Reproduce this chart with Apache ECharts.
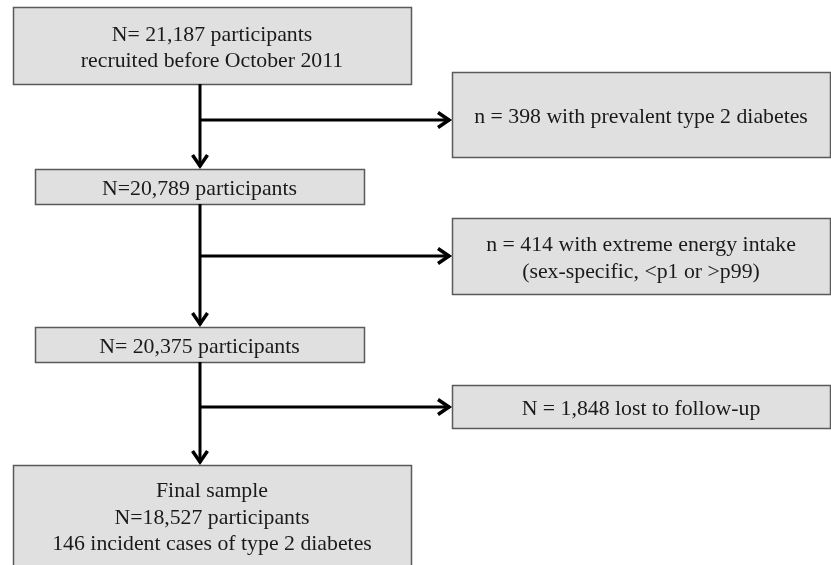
<!DOCTYPE html>
<html>
<head>
<meta charset="utf-8">
<script src="https://cdn.jsdelivr.net/npm/echarts@6/dist/echarts.min.js"></script>
<style>
html,body{margin:0;padding:0;background:#fff;}
#chart{width:831px;height:565px;}
</style>
</head>
<body>
<div id="chart"></div>
<script>
// Flowchart content
const boxLabels = [
  "N= 21,187 participants\nrecruited before October 2011",
  "n = 398 with prevalent type 2 diabetes",
  "N=20,789 participants",
  "n = 414 with extreme energy intake\n(sex-specific, <p1 or >p99)",
  "N= 20,375 participants",
  "N = 1,848 lost to follow-up",
  "Final sample\nN=18,527 participants\n146 incident cases of type 2 diabetes"
];
// Box layout [x0, y0, x1, y1] in chart units (pixels of the 831x565 canvas)
const boxLayout = [
  [13, 7, 411, 84],
  [452, 72, 830, 157],
  [35, 169, 364, 204],
  [452, 218, 830, 294],
  [35, 327, 364, 362],
  [452, 385, 830, 428],
  [13, 465, 411, 575]
];
// Connectors: vertical main flow (from box, to box) and side exits (target box, y)
const mainFlow = [[0, 2], [2, 4], [4, 6]];
const sideExits = [[1, 120], [3, 256], [5, 407]];
const spineX = 200;

const chart = echarts.init(document.getElementById('chart'), null, {renderer: 'canvas'});

const FONT = '"Liberation Serif", "Times New Roman", serif';

const option = {
  animation: false,
  backgroundColor: '#ffffff',
  grid: {left: 0, right: 0, top: 0, bottom: 0},
  xAxis: {type: 'value', min: 0, max: 831, show: false},
  yAxis: {type: 'value', min: 0, max: 565, inverse: true, show: false},
  series: [
    {
      type: 'custom',
      data: boxLabels.map((t, i) => [i]),
      renderItem: function (params, api) {
        const i = api.value(0);
        const b = boxLayout[i];
        const p0 = api.coord([b[0], b[1]]);
        const p1 = api.coord([b[2], b[3]]);
        return {
          type: 'group',
          children: [
            {
              type: 'rect',
              shape: {x: p0[0] + 0.5, y: p0[1] + 0.5, width: p1[0] - p0[0], height: p1[1] - p0[1]},
              style: {fill: '#e0e0e0', stroke: '#5a5a5a', lineWidth: 1.5}
            },
            {
              type: 'text',
              style: {
                text: boxLabels[i],
                x: (p0[0] + Math.min(p1[0], 831)) / 2,
                y: (p0[1] + Math.min(p1[1], 565)) / 2 + 3,
                align: 'center',
                verticalAlign: 'middle',
                font: '21.8px ' + FONT,
                lineHeight: 26.5,
                fill: '#1a1a1a'
              }
            }
          ]
        };
      }
    },
    {
      type: 'custom',
      data: mainFlow.map((m, i) => [i]),
      renderItem: function (params, api) {
        const m = mainFlow[api.value(0)];
        const from = boxLayout[m[0]], to = boxLayout[m[1]];
        const a = api.coord([spineX, from[3]]);
        const b = api.coord([spineX, to[1]]);
        return {
          type: 'group',
          children: [
            {type: 'line', shape: {x1: a[0], y1: a[1], x2: b[0], y2: b[1] - 2},
             style: {stroke: '#000', lineWidth: 3}},
            {type: 'polyline', shape: {points: [[b[0] - 7.5, b[1] - 14], [b[0], b[1] - 3], [b[0] + 7.5, b[1] - 14]]},
             style: {stroke: '#000', lineWidth: 3.5, fill: null, lineJoin: 'miter'}}
          ]
        };
      }
    },
    {
      type: 'custom',
      data: sideExits.map((s, i) => [i]),
      renderItem: function (params, api) {
        const s = sideExits[api.value(0)];
        const target = boxLayout[s[0]];
        const a = api.coord([spineX, s[1]]);
        const b = api.coord([target[0], s[1]]);
        return {
          type: 'group',
          children: [
            {type: 'line', shape: {x1: a[0], y1: a[1], x2: b[0] - 2, y2: b[1]},
             style: {stroke: '#000', lineWidth: 3}},
            {type: 'polyline', shape: {points: [[b[0] - 14, b[1] - 7.5], [b[0] - 3, b[1]], [b[0] - 14, b[1] + 7.5]]},
             style: {stroke: '#000', lineWidth: 3.5, fill: null, lineJoin: 'miter'}}
          ]
        };
      }
    }
  ]
};
chart.setOption(option);
</script>
</body>
</html>
